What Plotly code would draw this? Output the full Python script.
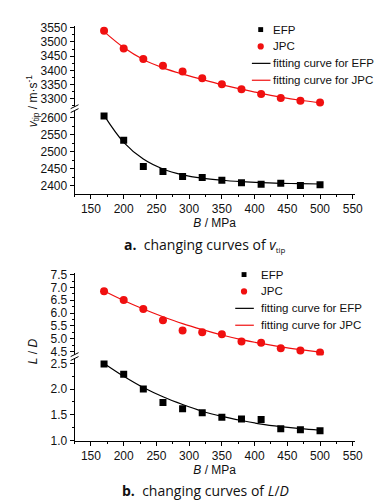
import plotly.graph_objects as go

# ---------------- data ----------------
B = [170, 200, 230, 260, 290, 320, 350, 380, 410, 440, 470, 500]

vtip_efp = [2604, 2533, 2456, 2442, 2427, 2424, 2416, 2409, 2404, 2407, 2401, 2403]
vtip_jpc = [3539, 3477, 3440, 3416, 3396, 3372, 3351, 3334, 3317, 3303, 3293, 3287]
vtip_efp_fit = [2606, 2527, 2478, 2449, 2432, 2422, 2416, 2412, 2409, 2407, 2406, 2405]
vtip_jpc_fit = [3536, 3480, 3438, 3409, 3387, 3368, 3350, 3334, 3319, 3306, 3295, 3286]

ld_efp = [2.49, 2.29, 2.00, 1.74, 1.62, 1.54, 1.45, 1.42, 1.41, 1.23, 1.21, 1.19]
ld_jpc = [6.85, 6.51, 6.16, 5.72, 5.32, 5.26, 5.18, 4.90, 4.85, 4.63, 4.55, 4.47]
ld_efp_fit = [2.50, 2.25, 2.03, 1.85, 1.70, 1.57, 1.47, 1.39, 1.32, 1.27, 1.23, 1.20]
ld_jpc_fit = [6.86, 6.49, 6.16, 5.86, 5.59, 5.36, 5.15, 4.97, 4.82, 4.69, 4.58, 4.48]

x_ticks = [150, 200, 250, 300, 350, 400, 450, 500, 550]
legend_names = ["EFP", "JPC", "fitting curve for EFP", "fitting curve for JPC"]

W, H = 389, 501
def px(x):
    return x / W
def py(y):
    return 1 - y / H

RED = "#f01010"
TICKFONT = dict(family="Liberation Sans, Arial", size=12, color="#111")
LEGFONT = dict(family="Liberation Sans, Arial", size=11.5, color="#111")

fig = go.Figure()

def add_set(xa, ya_low, ya_up, efp, jpc, efp_fit, jpc_fit):
    fig.add_trace(go.Scatter(x=B, y=efp, mode="markers", name=legend_names[0],
                             marker=dict(symbol="square", size=7, color="black"),
                             xaxis=xa, yaxis=ya_low, showlegend=False))
    fig.add_trace(go.Scatter(x=B, y=jpc, mode="markers", name=legend_names[1],
                             marker=dict(symbol="circle", size=8, color=RED),
                             xaxis=xa, yaxis=ya_up, showlegend=False))
    fig.add_trace(go.Scatter(x=B, y=efp_fit, mode="lines", name=legend_names[2],
                             line=dict(color="black", width=1.2, shape="spline"),
                             xaxis=xa, yaxis=ya_low, showlegend=False))
    fig.add_trace(go.Scatter(x=B, y=jpc_fit, mode="lines", name=legend_names[3],
                             line=dict(color=RED, width=1.2, shape="spline"),
                             xaxis=xa, yaxis=ya_up, showlegend=False))

add_set("x", "y", "y2", vtip_efp, vtip_jpc, vtip_efp_fit, vtip_jpc_fit)
add_set("x2", "y3", "y4", ld_efp, ld_jpc, ld_efp_fit, ld_jpc_fit)

xdom = [px(68), px(354)]
common_x = dict(domain=xdom, range=[125, 553], tickvals=x_ticks, ticks="outside",
                ticklen=4, tickcolor="black", showline=True, linecolor="black",
                linewidth=1, showgrid=False, zeroline=False, tickfont=TICKFONT,
                minor=dict(dtick=25, tick0=125, ticks="outside", ticklen=2, tickcolor="black"),
                title=dict(text="<i>B</i> / MPa", font=TICKFONT, standoff=2))
common_y = dict(ticks="outside", ticklen=4, tickcolor="black", showline=True,
                linecolor="black", linewidth=1, showgrid=False, zeroline=False,
                tickfont=TICKFONT)

fig.update_layout(
    width=W, height=H,
    margin=dict(l=0, r=0, t=0, b=0),
    paper_bgcolor="white", plot_bgcolor="white",
    showlegend=False,
    xaxis=dict(**common_x, anchor="y"),
    xaxis2=dict(**common_x, anchor="y3"),
    yaxis=dict(**common_y, anchor="x", domain=[py(185), py(99)], range=[2377, 2623],
               dtick=50, tick0=2400,
               minor=dict(dtick=25, ticks="outside", ticklen=2, tickcolor="black")),
    yaxis2=dict(**common_y, anchor="x", domain=[py(97), py(13)], range=[3269, 3557],
                dtick=50, tick0=3300,
                minor=dict(dtick=25, ticks="outside", ticklen=2, tickcolor="black")),
    yaxis3=dict(**common_y, anchor="x2", domain=[py(438), py(353)], range=[1.0, 2.614],
                dtick=0.5, tick0=1.0, tickformat=".1f",
                minor=dict(dtick=0.25, ticks="outside", ticklen=2, tickcolor="black")),
    yaxis4=dict(**common_y, anchor="x2", domain=[py(351), py(266)], range=[4.348, 7.576],
                dtick=0.5, tick0=4.5, tickformat=".1f",
                minor=dict(dtick=0.25, ticks="outside", ticklen=2, tickcolor="black")),
)

# hand-drawn legends (symbol column at sx, text starting at tx, rows from y0, 17.3 px apart)
def draw_legend(sx, tx, y0):
    rows = [y0 + i * 17.3 for i in range(4)]
    fig.add_shape(type="rect", xref="paper", yref="paper",
                  x0=px(sx - 2.5), x1=px(sx + 2.5), y0=py(rows[0] + 2.5), y1=py(rows[0] - 2.5),
                  fillcolor="black", line=dict(width=0))
    fig.add_shape(type="circle", xref="paper", yref="paper",
                  x0=px(sx - 3.2), x1=px(sx + 3.2), y0=py(rows[1] + 3.2), y1=py(rows[1] - 3.2),
                  fillcolor=RED, line=dict(width=0))
    for r, col in ((rows[2], "black"), (rows[3], RED)):
        fig.add_shape(type="line", xref="paper", yref="paper",
                      x0=px(sx - 9), x1=px(sx + 10), y0=py(r), y1=py(r),
                      line=dict(color=col, width=1.2))
    for r, name in zip(rows, legend_names):
        fig.add_annotation(text=name, xref="paper", yref="paper", x=px(tx), y=py(r),
                           xanchor="left", yanchor="middle", showarrow=False, font=LEGFONT)

draw_legend(258, 269, 17)
draw_legend(241, 256, 268)

# axis break marks
for yb in (98, 352):
    fig.add_shape(type="rect", xref="paper", yref="paper",
                  x0=px(64), x1=px(72), y0=py(yb + 2), y1=py(yb - 2),
                  fillcolor="white", line=dict(width=0))
    for dy in (-2, 2):
        fig.add_shape(type="line", xref="paper", yref="paper",
                      x0=px(64), x1=px(72), y0=py(yb + dy + 2), y1=py(yb + dy - 2),
                      line=dict(color="black", width=1))

# y-axis titles
fig.add_annotation(text="<i>v</i><sub>tip</sub> / m·s<sup>-1</sup>", xref="paper", yref="paper",
                   x=px(25), y=py(90), xanchor="center", yanchor="middle",
                   textangle=-90, showarrow=False,
                   font=dict(family="Liberation Sans, Arial", size=12, color="#111"))
fig.add_annotation(text="<i>L</i> / <i>D</i>", xref="paper", yref="paper",
                   x=px(25), y=py(346), xanchor="center", yanchor="middle",
                   textangle=-90, showarrow=False,
                   font=dict(family="Liberation Sans, Arial", size=12, color="#111"))

# captions
fig.add_annotation(text="<b>a.</b>  changing curves of <i>v</i><sub><span style='font-size:8px'>tip</span></sub>",
                   xref="paper", yref="paper",
                   x=px(201), y=py(238), xanchor="center", yanchor="middle", showarrow=False,
                   font=dict(family="Open Sans", size=14, color="#111"))
fig.add_annotation(text="<b>b.</b>  changing curves of <i>L</i>/<i>D</i>", xref="paper", yref="paper",
                   x=px(202), y=py(489), xanchor="center", yanchor="middle", showarrow=False,
                   font=dict(family="Open Sans", size=14, color="#111"))

fig.write_html("out.html")
